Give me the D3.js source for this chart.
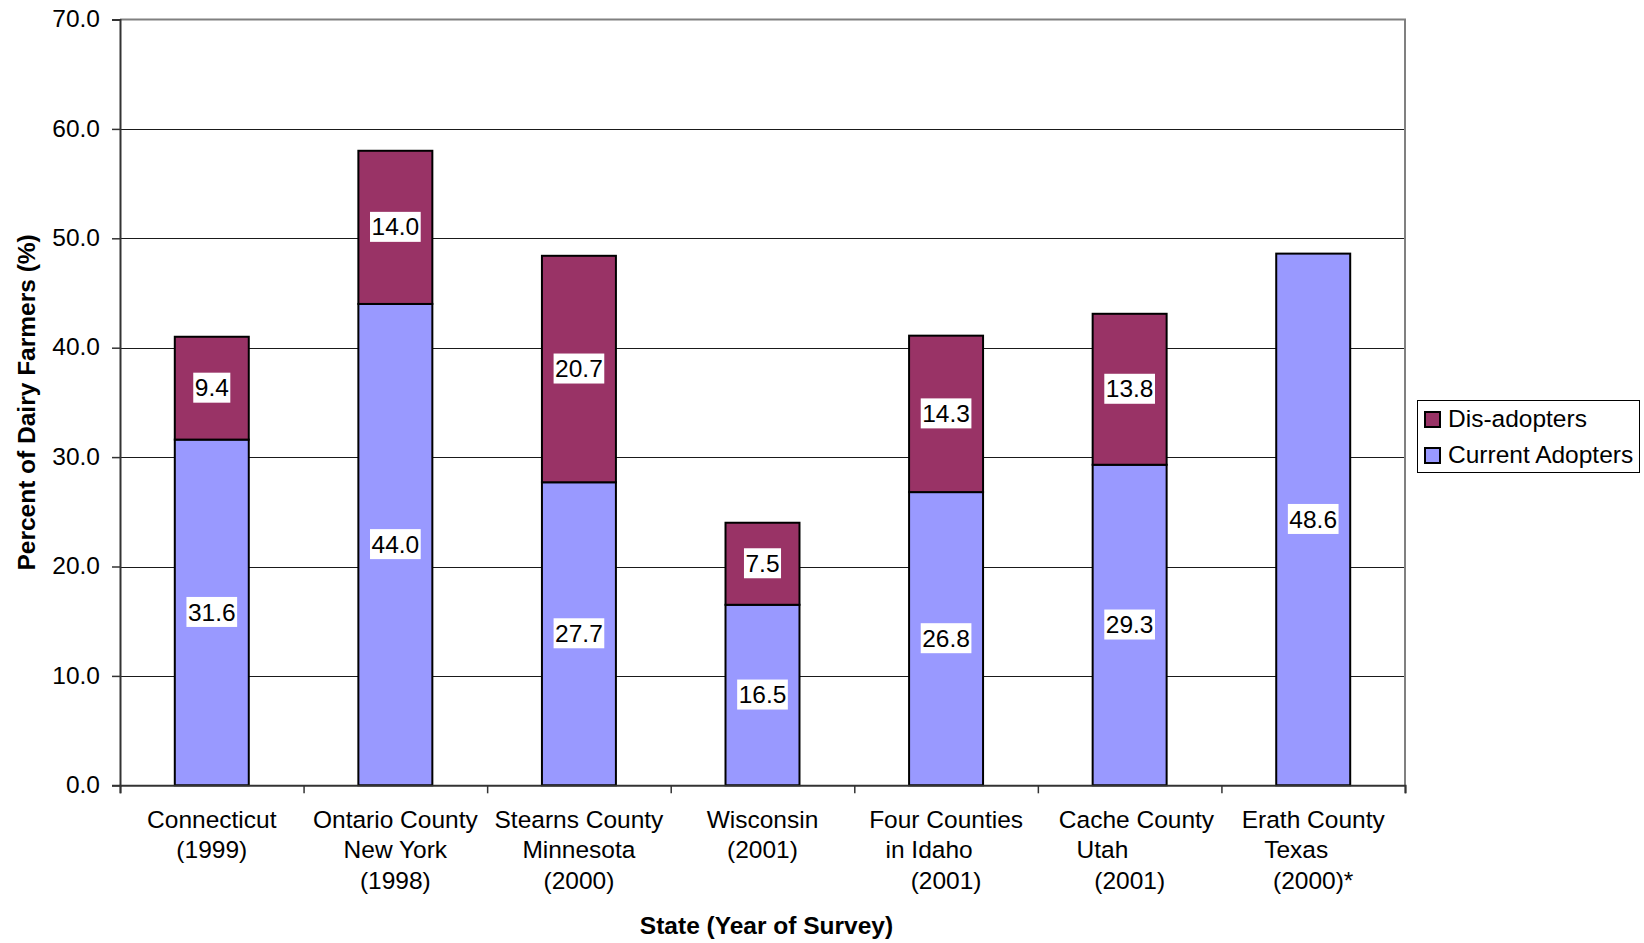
<!DOCTYPE html>
<html>
<head>
<meta charset="utf-8">
<script src="https://cdn.jsdelivr.net/npm/d3@7"></script>
<style>
  body { margin: 0; background: #fff; }
  svg { display: block; font-family: 'Liberation Sans', Arial, sans-serif; }
  .tick text { font-size: 24.5px; fill: #000; }
  .cat-label { font-size: 24.5px; white-space: pre; }
  .axis-title { font-size: 24.5px; font-weight: bold; }
  .legend text { font-size: 24.5px; white-space: pre; }
  .value-label { font-size: 24.5px; }
</style>
</head>
<body>
<div id="chart"></div>
<script>
// category labels, one entry per line (spaces kept as in the original wrap)
const categories = [
  ['Connecticut', '(1999)'],
  ['Ontario County', 'New York', '(1998)'],
  ['Stearns County', 'Minnesota', '(2000)'],
  ['Wisconsin', '(2001)'],
  ['Four Counties', 'in Idaho     ', '(2001)'],
  ['  Cache County', 'Utah        ', '(2001)'],
  ['Erath County', 'Texas     ', '(2000)*']
];

const currentAdopters = [31.6, 44.0, 27.7, 16.5, 26.8, 29.3, 48.6];
const disAdopters = [9.4, 14.0, 20.7, 7.5, 14.3, 13.8, null];

const yTicks = [0, 10, 20, 30, 40, 50, 60, 70];

const seriesNames = ['Dis-adopters', 'Current Adopters'];

const colors = {
  current: '#9999ff',
  dis: '#993366'
};

const width = 1644;
const height = 943;

const plot = { left: 120, right: 1405, top: 19.5, bottom: 785.3 };

let svg = d3.select('#chart').append('svg')
  .attr('width', width)
  .attr('height', height);

svg.append('rect')
  .attr('width', width)
  .attr('height', height)
  .attr('fill', '#fff');

let idx = d3.range(categories.length);

let xScale = d3.scaleBand()
  .domain(idx)
  .range([plot.left, plot.right])
  .paddingInner(0.597)
  .paddingOuter(0.2985);

// boundary ticks between categories
let xEdge = d3.scaleLinear()
  .domain([0, categories.length])
  .range([plot.left, plot.right]);

let yScale = d3.scaleLinear()
  .domain([0, 70])
  .range([plot.bottom, plot.top]);

// gridlines
svg.append('g')
  .selectAll('line')
  .data(yTicks.filter((d) => d > 0 && d < 70))
  .enter()
    .append('line')
      .attr('x1', plot.left)
      .attr('x2', plot.right)
      .attr('y1', (d) => Math.round(yScale(d)) + 0.5)
      .attr('y2', (d) => Math.round(yScale(d)) + 0.5)
      .attr('stroke', '#1a1a1a')
      .attr('stroke-width', 1);

// plot area border (top / right)
svg.append('path')
  .attr('d', 'M' + plot.left + ',' + yScale(70) + 'H' + plot.right + 'V' + plot.bottom)
  .attr('fill', 'none')
  .attr('stroke', '#808080')
  .attr('stroke-width', 2);

// bars
let bars = svg.append('g');

bars.selectAll('.bar-current')
  .data(idx).enter()
    .append('rect')
      .attr('class', 'bar-current')
      .attr('x', (i) => xScale(i))
      .attr('width', xScale.bandwidth())
      .attr('y', (i) => yScale(currentAdopters[i]))
      .attr('height', (i) => yScale(0) - yScale(currentAdopters[i]))
      .attr('fill', colors.current)
      .attr('stroke', '#000')
      .attr('stroke-width', 2);

let disIdx = idx.filter((i) => disAdopters[i] != null);

bars.selectAll('.bar-dis')
  .data(disIdx).enter()
    .append('rect')
      .attr('class', 'bar-dis')
      .attr('x', (i) => xScale(i))
      .attr('width', xScale.bandwidth())
      .attr('y', (i) => yScale(currentAdopters[i] + disAdopters[i]))
      .attr('height', (i) => yScale(currentAdopters[i]) - yScale(currentAdopters[i] + disAdopters[i]))
      .attr('fill', colors.dis)
      .attr('stroke', '#000')
      .attr('stroke-width', 2);

// value labels with white boxes
let labelData = [];
idx.forEach((i) => {
  labelData.push({ i: i, value: currentAdopters[i], mid: currentAdopters[i] / 2 });
  if (disAdopters[i] != null) {
    labelData.push({ i: i, value: disAdopters[i], mid: currentAdopters[i] + disAdopters[i] / 2 });
  }
});

let labels = svg.append('g').selectAll('g')
  .data(labelData).enter()
    .append('g')
      .attr('transform', (d) => 'translate(' + (xScale(d.i) + xScale.bandwidth() / 2) + ',' + yScale(d.mid) + ')');

labels.append('rect')
  .attr('fill', '#fff');

labels.append('text')
  .attr('class', 'value-label')
  .attr('text-anchor', 'middle')
  .attr('dy', '0.33em')
  .text((d) => d.value.toFixed(1));

labels.each(function() {
  let g = d3.select(this);
  let bb = g.select('text').node().getBBox();
  g.select('rect')
    .attr('x', -bb.width / 2 - 1.5)
    .attr('width', bb.width + 3)
    .attr('y', -15.5)
    .attr('height', 30);
});

// y axis
let yAxis = svg.append('g')
  .attr('transform', 'translate(' + plot.left + ',0)')
  .call(d3.axisLeft(yScale)
    .tickValues(yTicks)
    .tickSize(8)
    .tickPadding(12)
    .tickFormat(d3.format('.1f')));

yAxis.select('.domain').attr('stroke', '#333').attr('stroke-width', 2);
yAxis.selectAll('.tick line').attr('stroke', '#333').attr('stroke-width', 1.5);
yAxis.selectAll('.tick text').attr('dy', '0.29em');

// x axis (ticks on category boundaries)
let xAxis = svg.append('g')
  .attr('transform', 'translate(0,' + plot.bottom + ')')
  .call(d3.axisBottom(xEdge)
    .tickValues(d3.range(categories.length + 1))
    .tickSize(8)
    .tickFormat(''));

xAxis.select('.domain').attr('stroke', '#333').attr('stroke-width', 2);
xAxis.selectAll('.tick line').attr('stroke', '#333').attr('stroke-width', 1.5);

// category labels
let catText = svg.append('g').selectAll('text')
  .data(idx).enter()
    .append('text')
      .attr('class', 'cat-label')
      .attr('xml:space', 'preserve')
      .attr('text-anchor', 'middle');

catText.selectAll('tspan')
  .data((i) => categories[i].map((line, k) => ({ i: i, line: line, k: k })))
  .enter()
    .append('tspan')
      .attr('x', (d) => xScale(d.i) + xScale.bandwidth() / 2)
      .attr('y', (d) => 827.5 + d.k * 30.6)
      .text((d) => d.line);

// axis titles
svg.append('text')
  .attr('class', 'axis-title')
  .attr('x', (plot.left + plot.right) / 2 + 4)
  .attr('y', 934)
  .attr('text-anchor', 'middle')
  .text('State (Year of Survey)');

svg.append('text')
  .attr('class', 'axis-title')
  .attr('transform', 'rotate(-90)')
  .attr('x', -(plot.top + plot.bottom) / 2)
  .attr('y', 35)
  .attr('text-anchor', 'middle')
  .text('Percent of Dairy Farmers (%)');

// legend
let legend = svg.append('g').attr('class', 'legend');

legend.append('rect')
  .attr('x', 1417.5)
  .attr('y', 400.5)
  .attr('width', 222)
  .attr('height', 72)
  .attr('fill', '#fff')
  .attr('stroke', '#000')
  .attr('stroke-width', 1);

let legendColors = [colors.dis, colors.current];
let legendPos = 412;

seriesNames.forEach((name, k) => {
  legend.append('rect')
    .attr('x', 1425)
    .attr('y', legendPos)
    .attr('width', 15)
    .attr('height', 15)
    .attr('fill', legendColors[k])
    .attr('stroke', '#000')
    .attr('stroke-width', 2);

  legend.append('text')
    .attr('x', 1448)
    .attr('y', legendPos + 14.5)
    .text(name);

  legendPos += 36;
});
</script>
</body>
</html>
